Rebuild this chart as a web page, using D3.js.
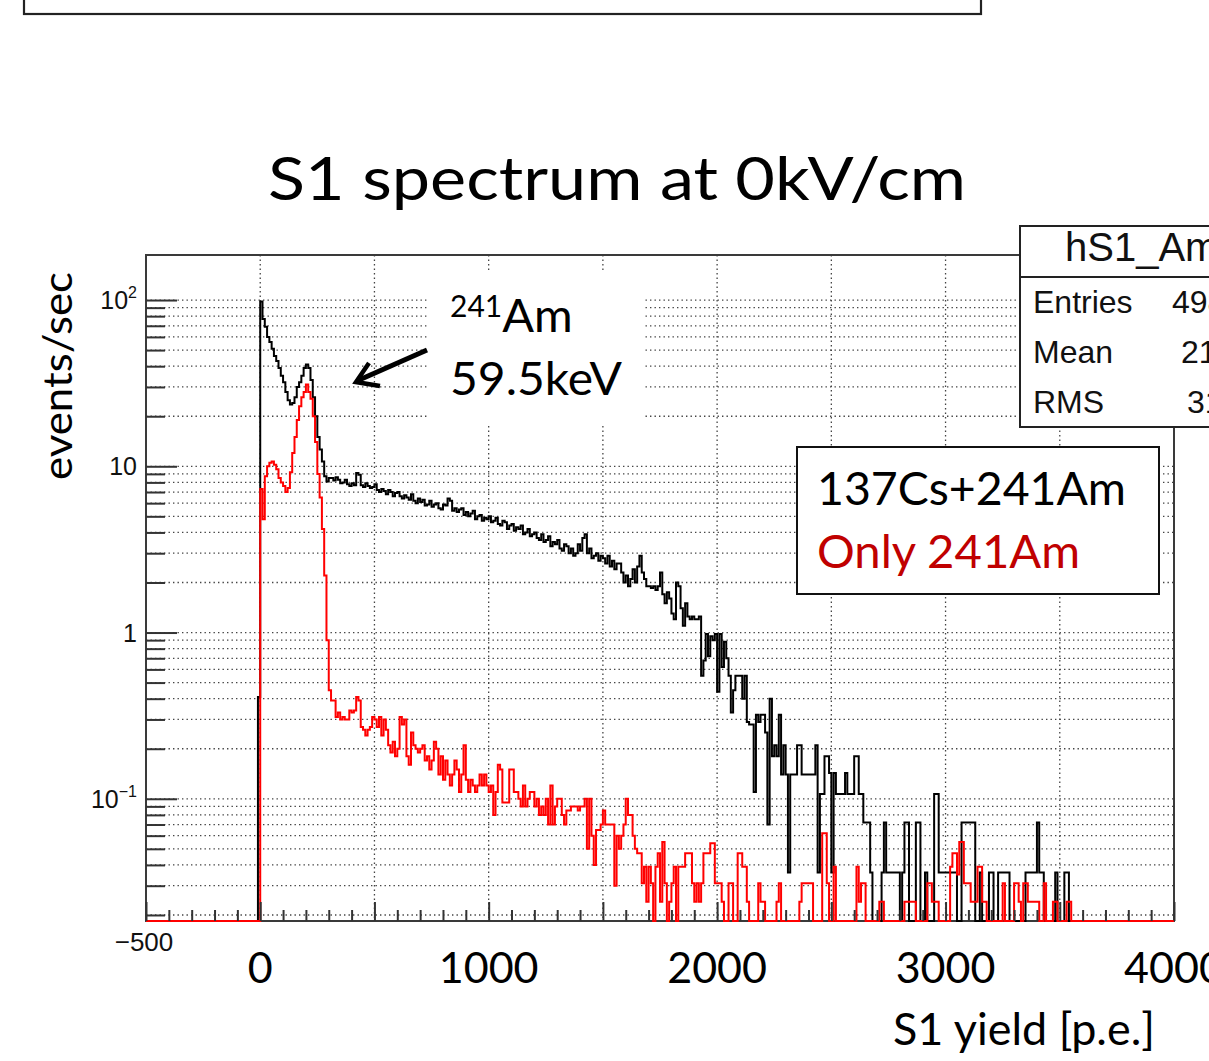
<!DOCTYPE html>
<html>
<head>
<meta charset="utf-8">
<script src="https://cdn.jsdelivr.net/npm/d3@7"></script>
<style>
  html, body { margin: 0; padding: 0; background: #fff; overflow: hidden; }
  svg { display: block; }
</style>
</head>
<body>
<div id="chart"></div>
<script>
// spectra are 10 p.e. bins, values in events/sec
const binWidth = 10;

// 137Cs+241Am (black), first bin is [-10, 0)
const blackStart = -10;
const blackRate = [
  0.41,
  98, 77, 69, 60, 56, 51, 46, 43, 39, 35,
  32, 28, 25, 23.5, 24, 26, 30, 32, 35, 39,
  41, 39, 33, 26, 20, 15, 12.6, 10.7, 8.7, 8.1,
  8.5, 8.5, 8.2, 8.6, 8.3, 7.9, 8.0, 8.3, 7.8, 7.6,
  7.9, 7.7, 9.1, 8.9, 7.7, 7.5, 7.9, 7.6, 7.4, 7.5,
  7.8, 7.2, 7.0, 7.3, 7.1, 6.8, 7.2, 7.0, 6.6, 6.9,
  7.0, 6.6, 6.4, 6.7, 6.5, 6.3, 6.8, 6.2, 6.0, 6.4,
  6.1, 6.3, 5.8, 5.9, 6.2, 5.7, 5.9, 6.0, 5.6, 5.5,
  5.9, 5.8, 6.4, 6.2, 5.4, 5.6, 5.3, 5.5, 5.6, 5.1,
  5.3, 5.0, 5.2, 5.4, 4.8, 5.0, 5.1, 4.7, 4.9, 4.8,
  5.0, 4.6, 4.7, 4.9, 4.5, 4.4, 4.7, 4.6, 4.2, 4.4,
  4.5, 4.1, 4.3, 4.2, 4.4, 3.9, 4.0, 4.2, 3.8, 3.9,
  4.0, 3.7, 3.6, 3.9, 3.5, 3.6, 3.8, 3.3, 3.5, 3.4,
  3.6, 3.2, 3.1, 3.4, 3.3, 3.0, 3.2, 2.9, 3.0, 3.4,
  3.1, 3.7, 3.9, 3.0, 3.2, 2.8, 2.9, 3.0, 2.7, 2.9,
  2.8, 2.6, 2.9, 2.5, 2.7, 2.4, 2.6, 2.6, 2.3, 2.0,
  2.2, 1.9, 2.1, 2.4, 2.0, 2.5, 2.9, 2.3, 2.1, 1.9,
  1.9, 1.85, 1.9, 1.8, 1.9, 2.3, 1.7, 1.5, 1.75, 1.6,
  1.3, 1.2, 2.0, 1.9, 1.4, 1.1, 1.5, 1.25, 1.2, 1.25,
  1.2, 1.2, 1.25, 0.55, 0.68, 0.98, 0.72, 0.95, 0.9, 0.98,
  0.44, 0.98, 0.62, 0.88, 0.7, 0.55, 0.33, 0.45, 0.55, 0.55,
  0.55, 0.4, 0.55, 0.29, 0.28, 0.28, 0.11, 0.32, 0.29, 0.32,
  0.32, 0.25, 0.07, 0.4, 0.18, 0.21, 0.18, 0.32, 0.14, 0.21,
  0.14, 0.036, 0.14, 0.14, 0.14, 0.21, 0.21, 0.14, 0.14, 0.14,
  0.14, 0.14, 0.14, 0.21, 0.036, 0.107, 0.107, 0.18, 0.18, 0.143,
  0.036, 0.143, 0.107, 0.107, 0.107, 0.107, 0.143, 0.107, 0.107, 0.107,
  0.18, 0.18, 0.107, 0.107, 0.072, 0.072, 0.072, 0.036, 0, 0,
  0, 0, 0.036, 0.072, 0.036, 0.036, 0.036, 0.036, 0.036, 0.036,
  0, 0.036, 0.072, 0.072, 0, 0, 0, 0.072, 0.072, 0,
  0, 0.036, 0, 0, 0, 0.107, 0.107, 0.036, 0.036, 0.036,
  0.036, 0.036, 0.036, 0.036, 0.036, 0, 0, 0.072, 0.072, 0.072,
  0.072, 0.072, 0.072, 0, 0, 0.036, 0, 0, 0, 0.036,
  0.036, 0, 0, 0.036, 0.036, 0.036, 0.036, 0.036, 0, 0,
  0, 0, 0, 0, 0, 0.036, 0.036, 0.036, 0.036, 0.036,
  0.072, 0.036, 0.036, 0, 0, 0, 0, 0, 0.036, 0,
  0, 0, 0.036, 0.036
];

// only 241Am (red), first bin is [0, 10)
const redStart = 0;
const redRate = [
  7.3, 4.8, 8.7, 10, 10.5, 10.7, 10.2, 9.6, 8.5, 8.0,
  7.6, 7.0, 7.4, 9.2, 12, 15, 19, 23, 26, 28,
  31, 28, 25.5, 20, 14, 9, 6.5, 4.2, 2.2, 0.9,
  0.45, 0.39, 0.39, 0.31, 0.33, 0.30, 0.31, 0.30, 0.30, 0.34,
  0.33, 0.34, 0.41, 0.39, 0.27, 0.26, 0.24, 0.26, 0.27, 0.31,
  0.30, 0.27, 0.31, 0.24, 0.30, 0.26, 0.21, 0.19, 0.22, 0.18,
  0.20, 0.31, 0.28, 0.30, 0.18, 0.16, 0.25, 0.21, 0.20, 0.19,
  0.20, 0.21, 0.17, 0.18, 0.15, 0.17, 0.22, 0.20, 0.14, 0.18,
  0.13, 0.17, 0.14, 0.12, 0.14, 0.17, 0.15, 0.11, 0.14, 0.21,
  0.13, 0.11, 0.13, 0.12, 0.11, 0.12, 0.14, 0.12, 0.14, 0.12,
  0.11, 0.12, 0.08, 0.11, 0.16, 0.15, 0.095, 0.095, 0.095, 0.15,
  0.15, 0.11, 0.11, 0.10, 0.09, 0.12, 0.09, 0.10, 0.11, 0.11,
  0.09, 0.10, 0.08, 0.09, 0.08, 0.10, 0.07, 0.12, 0.07, 0.09,
  0.10, 0.10, 0.08, 0.07, 0.085, 0.085, 0.09, 0.09, 0.09, 0.085,
  0.09, 0.09, 0.10, 0.05, 0.10, 0.06, 0.04, 0.065, 0.065, 0.07,
  0.085, 0.07, 0.07, 0.07, 0.07, 0.03, 0.06, 0.05, 0.06, 0.07,
  0.10, 0.08, 0.08, 0.06, 0.05, 0.047, 0.047, 0.031, 0.039, 0.024,
  0.039, 0.031, 0, 0.039, 0.047, 0.024, 0.055, 0.031, 0, 0.024,
  0.031, 0.039, 0, 0.039, 0.039, 0.039, 0.047, 0.047, 0.047, 0.031,
  0.024, 0.031, 0.024, 0.031, 0.047, 0.047, 0.047, 0.054, 0.054, 0.031,
  0.031, 0.031, 0.024, 0, 0, 0.031, 0.031, 0, 0, 0.047,
  0.047, 0.039, 0.039, 0.024, 0, 0, 0, 0, 0.031, 0.024,
  0.024, 0, 0, 0, 0, 0, 0.024, 0.031, 0, 0,
  0, 0, 0, 0, 0, 0, 0.024, 0.031, 0.031, 0.031,
  0.031, 0.031, 0, 0, 0, 0, 0.062, 0.062, 0.031, 0,
  0, 0.039, 0, 0, 0, 0, 0, 0, 0, 0,
  0, 0.039, 0.024, 0.031, 0.031, 0, 0, 0, 0, 0,
  0, 0.024, 0.024, 0, 0, 0, 0, 0, 0, 0,
  0, 0, 0.024, 0.024, 0.024, 0.024, 0.024, 0, 0, 0,
  0, 0, 0.031, 0.031, 0.024, 0.024, 0.024, 0, 0, 0,
  0, 0, 0.039, 0.047, 0.047, 0.035, 0.055, 0.055, 0.031, 0.031,
  0.031, 0.024, 0.024, 0.024, 0.039, 0.039, 0.024, 0.024, 0, 0,
  0, 0, 0, 0, 0, 0.031, 0, 0, 0, 0,
  0.031, 0.031, 0.024, 0, 0.031, 0.031, 0.024, 0.024, 0.024, 0.024,
  0.024, 0, 0, 0.031, 0, 0, 0, 0.024, 0.024, 0,
  0, 0, 0, 0.024, 0.024
];

// axis setup
const xMin = -500, xMax = 4000;
const yMin = 0.0184, yMax = 186.6;
const xBigLabels = [0, 1000, 2000, 3000, 4000];
const yLabelValues = [100, 10, 1, 0.1];
const yLabelBase = ["10", "10", "1", "10"];
const yLabelSup = ["2", "", "", "\u22121"];
const statNames = ["Entries", "Mean", "RMS"];
const statValues = ["49876", "215.3", "317.2"];

const W = 1209, H = 1061;
const frame = { left: 146, right: 1174, top: 255, bottom: 921 };
const pptFont = "Lato, 'Open Sans', sans-serif";
const rootFont = "'Liberation Sans', Arial, sans-serif";

var svg = d3.select("#chart").append("svg")
  .attr("width", W).attr("height", H);

var x = d3.scaleLinear().domain([xMin, xMax]).range([frame.left, frame.right]);
var y = d3.scaleLog().domain([yMin, yMax]).range([frame.bottom, frame.top]);

// log ticks: decades are major, 2..9 are minor
var yMajor = [0.1, 1, 10, 100];
var yMinor = [];
[0.01, 0.1, 1, 10, 100].forEach(function (d) {
  for (var k = 2; k <= 9; k++) {
    var v = d * k;
    if (v > yMin && v < yMax) yMinor.push(v);
  }
});
var xMajor = d3.range(xMin, xMax + 1, 500);
var xMinor = d3.range(xMin, xMax + 1, 100).filter(v => v % 500 !== 0);

// top box from the slide above
svg.append("rect")
  .attr("x", 24).attr("y", -10).attr("width", 957).attr("height", 24)
  .attr("fill", "none").attr("stroke", "#222").attr("stroke-width", 2.2);

// title
svg.append("text")
  .attr("x", 268).attr("y", 200)
  .attr("font-family", pptFont).attr("font-size", 60)
  .attr("textLength", 698).attr("lengthAdjust", "spacingAndGlyphs")
  .text("S1 spectrum at 0kV/cm");

// grid
var grid = svg.append("g").attr("stroke", "#444").attr("stroke-width", 1.3)
  .attr("stroke-dasharray", "1.4,3.1");
grid.selectAll(".gy").data(yMajor.concat(yMinor)).enter().append("line")
  .attr("x1", frame.left).attr("x2", frame.right)
  .attr("y1", d => y(d)).attr("y2", d => y(d));
grid.selectAll(".gx").data(xMajor.filter(v => v > xMin && v < xMax)).enter().append("line")
  .attr("x1", d => x(d)).attr("x2", d => x(d))
  .attr("y1", frame.top).attr("y2", frame.bottom);

// frame
svg.append("rect")
  .attr("x", frame.left).attr("y", frame.top)
  .attr("width", frame.right - frame.left).attr("height", frame.bottom - frame.top)
  .attr("fill", "none").attr("stroke", "#3a3a3a").attr("stroke-width", 2);

// histograms (drawn over the frame so empty bins sit on the bottom edge)
var yv = function (v) { return v <= yMin ? y(yMin) : y(v); };
var histPoints = function (start, rates) {
  var pts = [];
  var n = (xMax - xMin) / binWidth;
  for (var i = 0; i < n; i++) {
    var lo = xMin + i * binWidth;
    var k = Math.round((lo - start) / binWidth);
    var v = (k >= 0 && k < rates.length) ? rates[k] : 0;
    pts.push([lo, v], [lo + binWidth, v]);
  }
  return pts;
};
var line = d3.line().x(d => x(d[0])).y(d => yv(d[1]));

svg.append("defs").append("clipPath").attr("id", "plotclip")
  .append("rect").attr("x", frame.left).attr("y", frame.top)
  .attr("width", frame.right - frame.left).attr("height", frame.bottom - frame.top + 2);

var plot = svg.append("g").attr("clip-path", "url(#plotclip)");
plot.append("path").datum(histPoints(blackStart, blackRate))
  .attr("d", line).attr("fill", "none").attr("stroke", "#000")
  .attr("stroke-width", 2);
plot.append("path").datum(histPoints(redStart, redRate))
  .attr("d", line).attr("fill", "none").attr("stroke", "#ff0000")
  .attr("stroke-width", 2);

// ticks (inward, ROOT style)
var tickStyle = function (g) {
  g.select(".domain").remove();
  g.selectAll(".tick line").attr("stroke", "#333").attr("stroke-width", 2);
};
svg.append("g").attr("transform", "translate(" + frame.left + ",0)")
  .call(d3.axisLeft(y).tickValues(yMinor).tickSize(-19).tickFormat(""))
  .call(tickStyle);
svg.append("g").attr("transform", "translate(" + frame.left + ",0)")
  .call(d3.axisLeft(y).tickValues(yMajor).tickSize(-31).tickFormat(""))
  .call(tickStyle);
svg.append("g").attr("transform", "translate(0," + frame.bottom + ")")
  .call(d3.axisBottom(x).tickValues(xMinor).tickSize(-11).tickFormat(""))
  .call(tickStyle);
svg.append("g").attr("transform", "translate(0," + frame.bottom + ")")
  .call(d3.axisBottom(x).tickValues(xMajor).tickSize(-19).tickFormat(""))
  .call(tickStyle);

// y tick labels
var ylab = svg.append("g").attr("font-family", rootFont).attr("font-size", 25)
  .attr("fill", "#111").attr("text-anchor", "end");
yLabelValues.forEach(function (v, i) {
  var t = ylab.append("text").attr("x", 137).attr("y", y(v) + 9);
  t.append("tspan").text(yLabelBase[i]);
  if (yLabelSup[i]) {
    t.append("tspan").attr("font-size", 16).attr("dy", -11).text(yLabelSup[i]);
  }
});

// x labels: ROOT's -500 and the big overlaid ones
svg.append("text")
  .attr("x", x(-500) - 2).attr("y", 951)
  .attr("font-family", rootFont).attr("font-size", 26).attr("fill", "#111")
  .attr("text-anchor", "middle").text("\u2212500");
svg.append("g").selectAll("text").data(xBigLabels).enter().append("text")
  .attr("x", d => x(d)).attr("y", 983)
  .attr("font-family", pptFont).attr("font-size", 43)
  .attr("text-anchor", "middle").text(d => d);

// axis titles
svg.append("text")
  .attr("x", 893).attr("y", 1045)
  .attr("font-family", pptFont).attr("font-size", 44)
  .attr("textLength", 262).attr("lengthAdjust", "spacingAndGlyphs")
  .text("S1 yield [p.e.]");
svg.append("text")
  .attr("transform", "translate(72,376) rotate(-90)")
  .attr("font-family", pptFont).attr("font-size", 40)
  .attr("text-anchor", "middle")
  .attr("textLength", 208).attr("lengthAdjust", "spacingAndGlyphs")
  .text("events/sec");

// stats box (cut by the slide edge)
var stats = svg.append("g");
stats.append("rect")
  .attr("x", 1020).attr("y", 226).attr("width", 260).attr("height", 201)
  .attr("fill", "#fff").attr("stroke", "#222").attr("stroke-width", 2);
stats.append("line")
  .attr("x1", 1020).attr("x2", 1280).attr("y1", 277).attr("y2", 277)
  .attr("stroke", "#222").attr("stroke-width", 2);
stats.append("text")
  .attr("x", 1065).attr("y", 261)
  .attr("font-family", rootFont).attr("font-size", 40).attr("fill", "#111")
  .text("hS1_Am");
statNames.forEach(function (s, i) {
  stats.append("text")
    .attr("x", 1033).attr("y", 313 + i * 50)
    .attr("font-family", rootFont).attr("font-size", 32).attr("fill", "#111")
    .text(s);
  stats.append("text")
    .attr("x", [1172, 1181, 1187][i]).attr("y", 313 + i * 50)
    .attr("font-family", rootFont).attr("font-size", 32).attr("fill", "#111")
    .text(statValues[i]);
});

// annotation for the 241Am peak
svg.append("rect")
  .attr("x", 428).attr("y", 273).attr("width", 215).attr("height", 150)
  .attr("fill", "#fff");
var ann = svg.append("text")
  .attr("x", 450).attr("y", 332)
  .attr("font-family", pptFont).attr("font-size", 47);
ann.append("tspan").attr("font-size", 30).attr("dy", -15).text("241");
ann.append("tspan").attr("dy", 15).text("Am");
svg.append("text")
  .attr("x", 450).attr("y", 395)
  .attr("font-family", pptFont).attr("font-size", 47)
  .attr("textLength", 172).attr("lengthAdjust", "spacingAndGlyphs")
  .text("59.5keV");
svg.append("line")
  .attr("x1", 427).attr("y1", 350).attr("x2", 359).attr("y2", 380)
  .attr("stroke", "#000").attr("stroke-width", 5);
svg.append("polyline")
  .attr("points", "369,363 356,382 380,386")
  .attr("fill", "none").attr("stroke", "#000").attr("stroke-width", 4.5)
  .attr("stroke-linejoin", "miter");

// legend
svg.append("rect")
  .attr("x", 797).attr("y", 447).attr("width", 362).attr("height", 147)
  .attr("fill", "#fff").attr("stroke", "#111").attr("stroke-width", 2);
svg.append("text")
  .attr("x", 817).attr("y", 505)
  .attr("font-family", pptFont).attr("font-size", 46)
  .attr("textLength", 309).attr("lengthAdjust", "spacingAndGlyphs")
  .text("137Cs+241Am");
svg.append("text")
  .attr("x", 817).attr("y", 568)
  .attr("font-family", pptFont).attr("font-size", 46).attr("fill", "#c00000")
  .attr("textLength", 263).attr("lengthAdjust", "spacingAndGlyphs")
  .text("Only 241Am");
</script>
</body>
</html>
